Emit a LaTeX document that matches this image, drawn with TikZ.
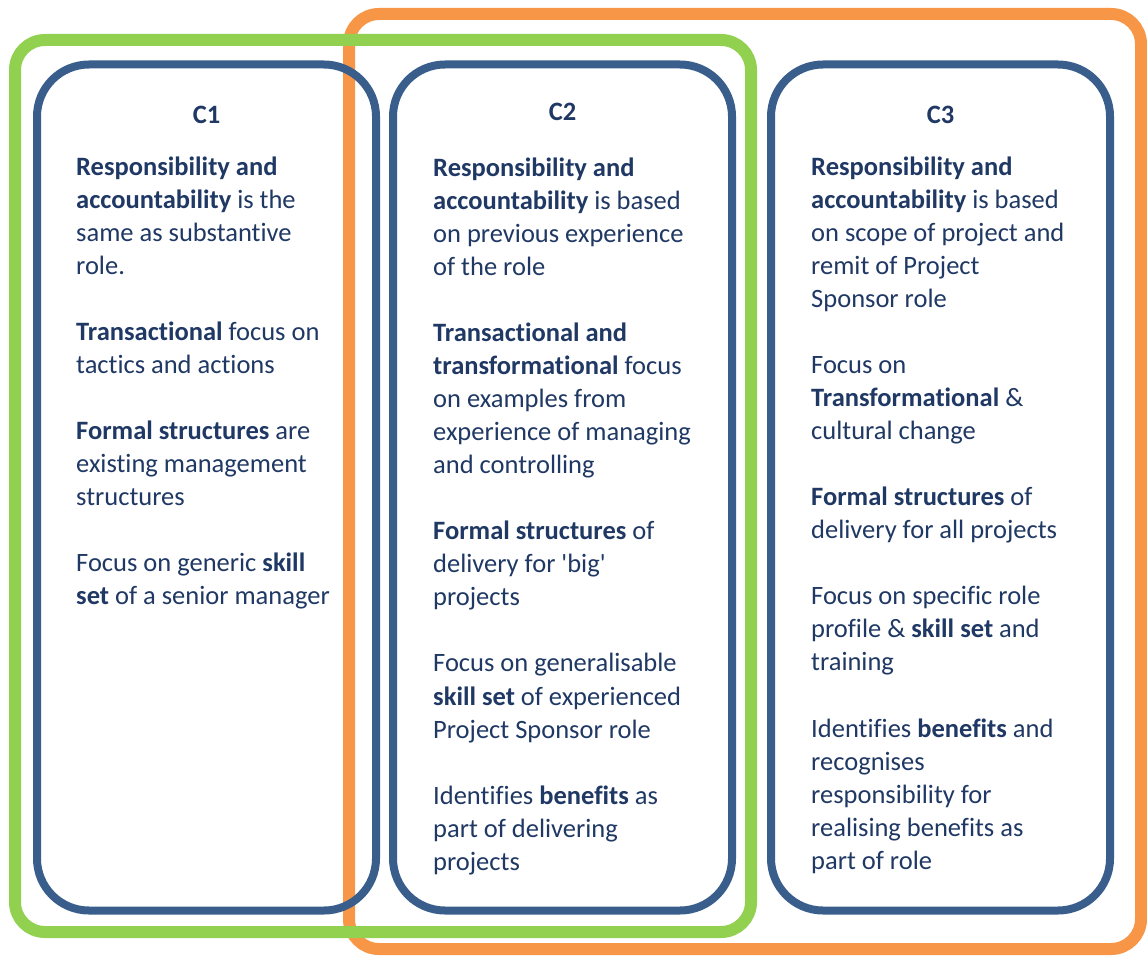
\documentclass[tikz,border=0pt]{standalone}
\usepackage{fontspec}
\setmainfont{Carlito}[Ligatures={TeXOff,NoCommon}]
\definecolor{txt}{HTML}{1F3864}
\definecolor{bluebox}{HTML}{3A5E8C}
\definecolor{greenbox}{HTML}{92D050}
\definecolor{orangebox}{HTML}{F79646}
\begin{document}
\begin{tikzpicture}[x=1pt,y=-1pt,
  cbox/.style={draw=bluebox, line width=8pt, rounded corners=52pt},
  gbox/.style={draw=greenbox, line width=12pt, rounded corners=30pt},
  obox/.style={draw=orangebox, line width=12pt, rounded corners=30pt},
  body/.style={anchor=north west, align=left, inner sep=0pt, text=txt,
    font=\fontsize{26.5}{33.05}\selectfont},
  head/.style={anchor=base, inner sep=0pt, text=txt,
    font=\fontsize{26.5}{33.05}\selectfont\bfseries}]
\useasboundingbox (0,0) rectangle (1147,955);
\fill[white] (0,0) rectangle (1147,955);
\draw[obox] (349,14) rectangle (1141,949);
\draw[gbox] (15,40) rectangle (751,932);
\draw[cbox] (37,64.5) rectangle (376,910.5);
\draw[cbox] (393,64.5) rectangle (732,910.5);
\draw[cbox] (771,64.5) rectangle (1110,910.5);

\node[head] (h1) at (206.5,123) {C1};
\node[head] (h2) at (562.5,121) {C2};
\node[head] (h3) at (940.5,123) {C3};

% first baseline = top + 0.7*33.05 (strut)
\node[body] (t1) at (76,151.9) {\strut\textbf{Responsibility and}\\
\textbf{accountability} is the\\
same as substantive\\
role.\\[33.05pt]
\textbf{Transactional} focus on\\
tactics and actions\\[33.05pt]
\textbf{Formal structures} are\\
existing management\\
structures\\[33.05pt]
Focus on generic \textbf{skill}\\
\textbf{set} of a senior manager};

\node[body] (t2) at (433,152.9) {\strut\textbf{Responsibility and}\\
\textbf{accountability} is based\\
on previous experience\\
of the role\\[33.05pt]
\textbf{Transactional and}\\
\textbf{transformational} focus\\
on examples from\\
experience of managing\\
and controlling\\[33.05pt]
\textbf{Formal structures} of\\
delivery for 'big'\\
projects\\[33.05pt]
Focus on generalisable\\
\textbf{skill set} of experienced\\
Project Sponsor role\\[33.05pt]
Identifies \textbf{benefits} as\\
part of delivering\\
projects};

\node[body] (t3) at (811,151.9) {\strut\textbf{Responsibility and}\\
\textbf{accountability} is based\\
on scope of project and\\
remit of Project\\
Sponsor role\\[33.05pt]
Focus on\\
\textbf{Transformational} \&\\
cultural change\\[33.05pt]
\textbf{Formal structures} of\\
delivery for all projects\\[33.05pt]
Focus on specific role\\
profile \& \textbf{skill set} and\\
training\\[33.05pt]
Identifies \textbf{benefits} and\\
recognises\\
responsibility for\\
realising benefits as\\
part of role};
\end{tikzpicture}
\end{document}
